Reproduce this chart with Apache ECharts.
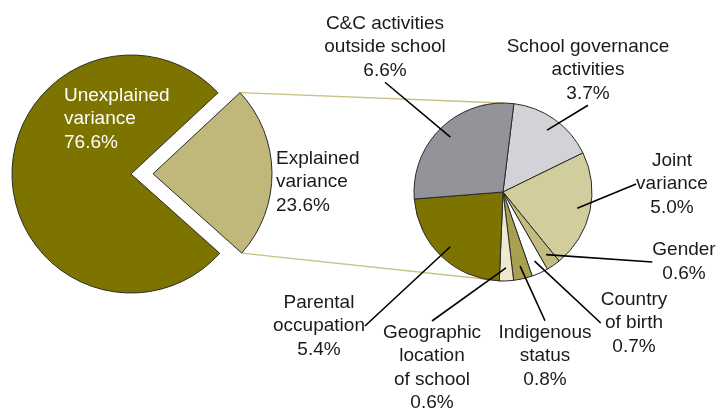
<!DOCTYPE html>
<html>
<head>
<meta charset="utf-8">
<script src="https://cdn.jsdelivr.net/npm/echarts@6/dist/echarts.min.js"></script>
<style>html,body{margin:0;padding:0;background:#fff}#c{width:716px;height:410px}</style>
</head>
<body>
<div id="c"></div>
<script>
// ---- data ----
const mainNames = ['Explained\nvariance', 'Unexplained\nvariance'];
const mainValues = [23.6, 76.6];
const subNames = ['School governance\nactivities', 'Joint\nvariance', 'Gender', 'Country\nof birth',
  'Indigenous\nstatus', 'Geographic\nlocation\nof school', 'Parental\noccupation', 'C&C activities\noutside school'];
const subValues = [3.7, 5.0, 0.6, 0.7, 0.8, 0.6, 5.4, 6.6];

// ---- styles / layout ----
const mainColors = ['#c0b77a', '#7d7400'];
const mainTextColors = ['#1a1a1a', '#ffffff'];
const subColors = ['#d2d3d6', '#d2cd9c', '#c3bb80', '#ffffff', '#a8a04e', '#efeacf', '#7d7400', '#939499'];
const mainLabelPos = [[276, 182], [64, 119]];
const subLabelPos = [[588, 70], [672, 184], [684, 262], [634, 323], [545, 356], [432, 368], [319, 326], [385, 47]];
const L = { cx: 131, cy: 174, r: 119, start: 43, offset: 22 };
const R = { cx: 503, cy: 192, r: 89, start: 83, labelR: 76 };
const FONT = '"Liberation Sans", Arial, Helvetica, sans-serif';
const FS = 19, LH = 23.5;

const chart = echarts.init(document.getElementById('c'), null, { renderer: 'canvas' });

// exploded slice geometry computed from the data
const total = mainValues.reduce((a, b) => a + b, 0);
const span = mainValues[0] / total * 360;
const mid = (L.start - span / 2) * Math.PI / 180;
const ox = L.cx + L.offset * Math.cos(mid), oy = L.cy - L.offset * Math.sin(mid);
const a1 = L.start * Math.PI / 180, a2 = (L.start - span) * Math.PI / 180;
const p1 = [ox + L.r * Math.cos(a1), oy - L.r * Math.sin(a1)];
const p2 = [ox + L.r * Math.cos(a2), oy - L.r * Math.sin(a2)];

const fmt = p => p.name + '\n' + p.value.toFixed(1) + '%';
function mainSeries(center, visibleIdx) {
  return {
    type: 'pie', center: center, radius: L.r, startAngle: L.start, clockwise: true,
    avoidLabelOverlap: false, silent: true, z: 2,
    label: { show: true, position: 'inside', fontFamily: FONT, fontSize: FS, lineHeight: LH, align: 'left', formatter: fmt },
    labelLine: { show: false },
    labelLayout: p => ({ x: mainLabelPos[p.dataIndex][0], y: mainLabelPos[p.dataIndex][1], align: 'left', verticalAlign: 'middle' }),
    data: mainNames.map((n, i) => ({
      name: n, value: mainValues[i],
      itemStyle: i === visibleIdx ? { color: mainColors[i], borderColor: '#2a2a2a', borderWidth: 1 }
                                  : { color: 'rgba(0,0,0,0)', borderWidth: 0 },
      label: { show: i === visibleIdx, color: mainTextColors[i] }
    }))
  };
}

const option = {
  animation: false,
  graphic: [
    { type: 'line', z: -1, shape: { x1: p1[0], y1: p1[1], x2: R.cx, y2: R.cy - R.r }, style: { stroke: '#c9c184', lineWidth: 1.3 } },
    { type: 'line', z: -1, shape: { x1: p2[0], y1: p2[1], x2: R.cx, y2: R.cy + R.r }, style: { stroke: '#c9c184', lineWidth: 1.3 } }
  ],
  series: [
    mainSeries([L.cx, L.cy], 1),
    mainSeries([ox, oy], 0),
    {
      type: 'pie', center: [R.cx, R.cy], radius: R.r, startAngle: R.start, clockwise: true,
      avoidLabelOverlap: false, silent: true, z: 2,
      itemStyle: { borderColor: '#2a2a2a', borderWidth: 1 },
      label: { show: false }, labelLine: { show: false },
      data: subNames.map((n, i) => ({ name: n, value: subValues[i], itemStyle: { color: subColors[i] } }))
    },
    {
      type: 'pie', center: [R.cx, R.cy], radius: R.labelR, startAngle: R.start, clockwise: true,
      avoidLabelOverlap: false, silent: true, z: 5,
      itemStyle: { color: 'rgba(0,0,0,0)', borderWidth: 0 },
      label: { show: true, position: 'outside', color: '#1a1a1a', fontFamily: FONT, fontSize: FS, lineHeight: LH,
        align: 'center', formatter: fmt },
      labelLine: { show: true, length: 5, length2: 0, smooth: false, lineStyle: { color: '#000', width: 1.6 } },
      labelLayout: p => ({ x: subLabelPos[p.dataIndex][0], y: subLabelPos[p.dataIndex][1], align: 'center', verticalAlign: 'middle' }),
      data: subNames.map((n, i) => ({ name: n, value: subValues[i] }))
    }
  ]
};
chart.setOption(option);
</script>
</body>
</html>
